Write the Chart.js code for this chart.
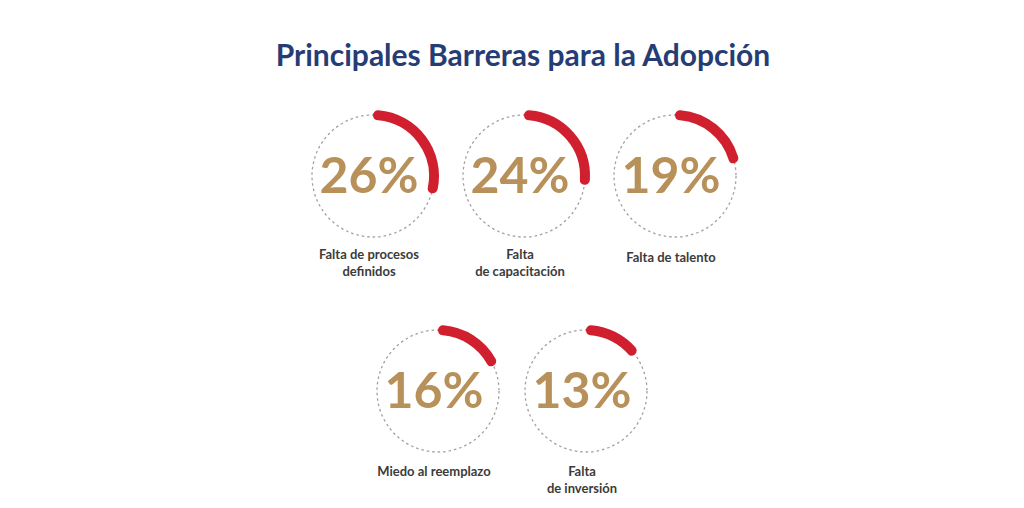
<!DOCTYPE html>
<html>
<head>
<meta charset="utf-8">
<script src="https://cdn.jsdelivr.net/npm/chart.js@4.4.0/dist/chart.umd.min.js"></script>
<style>
body { margin: 0; background: #fff; width: 1024px; height: 508px; position: relative; overflow: hidden; font-family: Lato, "Open Sans", sans-serif; }
#title { position: absolute; left: 0; width: 1046px; top: 36px; text-align: center; font-size: 30px; font-weight: 700; color: #263c74; }
.gauge { position: absolute; width: 140px; height: 140px; }
.label { position: absolute; width: 200px; text-align: center; font-size: 13px; font-weight: 700; color: #3b3b3b; line-height: 17px; }
</style>
</head>
<body>
<div id="title">Principales Barreras para la Adopción</div>
<div id="board"></div>
<script>
// ===== DATA =====
const categories = [
    ['Falta de procesos', 'definidos'],
    ['Falta', 'de capacitación'],
    ['Falta de talento'],
    ['Miedo al reemplazo'],
    ['Falta', 'de inversión']
];
const values = [26, 24, 19, 16, 13];
const gaugeMax = 88; // the arcs in the picture are drawn on a ~88% full circle

// layout: circle centres and label top per gauge
const centers = [[373, 176], [524, 176], [675, 176], [438, 391], [586, 391]];
const labelTops = [246, 246, 249, 463, 463];

const RED = '#d0202f';
const GOLD = '#b8915a';

// dashed ring + centre percentage
const gaugeDecor = {
    id: 'gaugeDecor',
    beforeDatasetsDraw(chart) {
        const arc = chart.getDatasetMeta(0).data[0];
        if (!arc) return;
        const c = chart.ctx;
        const r = (arc.outerRadius + arc.innerRadius) / 2;
        c.save();
        c.strokeStyle = '#a0a0a0';
        c.lineWidth = 1.3;
        c.setLineDash([2.5, 3]);
        c.beginPath();
        c.arc(arc.x, arc.y, r, 0, Math.PI * 2);
        c.stroke();
        c.restore();
    },
    afterDatasetsDraw(chart) {
        const arc = chart.getDatasetMeta(0).data[0];
        if (!arc) return;
        const c = chart.ctx;
        c.save();
        c.fillStyle = GOLD;
        c.font = 'bold 50px Lato';
        c.textAlign = 'center';
        c.textBaseline = 'middle';
        c.fillText(chart.data.datasets[0].data[0] + '%', arc.x - 4, arc.y + 1);
        c.restore();
    }
};

const board = document.getElementById('board');

values.forEach(function(v, i) {
    const box = document.createElement('div');
    box.className = 'gauge';
    box.style.left = (centers[i][0] - 70) + 'px';
    box.style.top = (centers[i][1] - 70) + 'px';
    const canvas = document.createElement('canvas');
    box.appendChild(canvas);
    board.appendChild(box);

    const lab = document.createElement('div');
    lab.className = 'label';
    lab.style.left = (centers[i][0] - 100 - 4) + 'px';
    lab.style.top = labelTops[i] + 'px';
    lab.innerHTML = categories[i].join('<br>');
    board.appendChild(lab);

    new Chart(canvas, {
        type: 'doughnut',
        data: {
            labels: ['value', 'rest'],
            datasets: [{
                data: [v, gaugeMax - v],
                backgroundColor: [RED, 'rgba(0,0,0,0)'],
                borderWidth: 0,
                borderRadius: [5, 0]
            }]
        },
        options: {
            responsive: true,
            maintainAspectRatio: false,
            animation: false,
            cutout: 56,
            layout: { padding: 4 },
            plugins: {
                legend: { display: false },
                tooltip: { enabled: false }
            }
        },
        plugins: [gaugeDecor]
    });
});
</script>
</body>
</html>
